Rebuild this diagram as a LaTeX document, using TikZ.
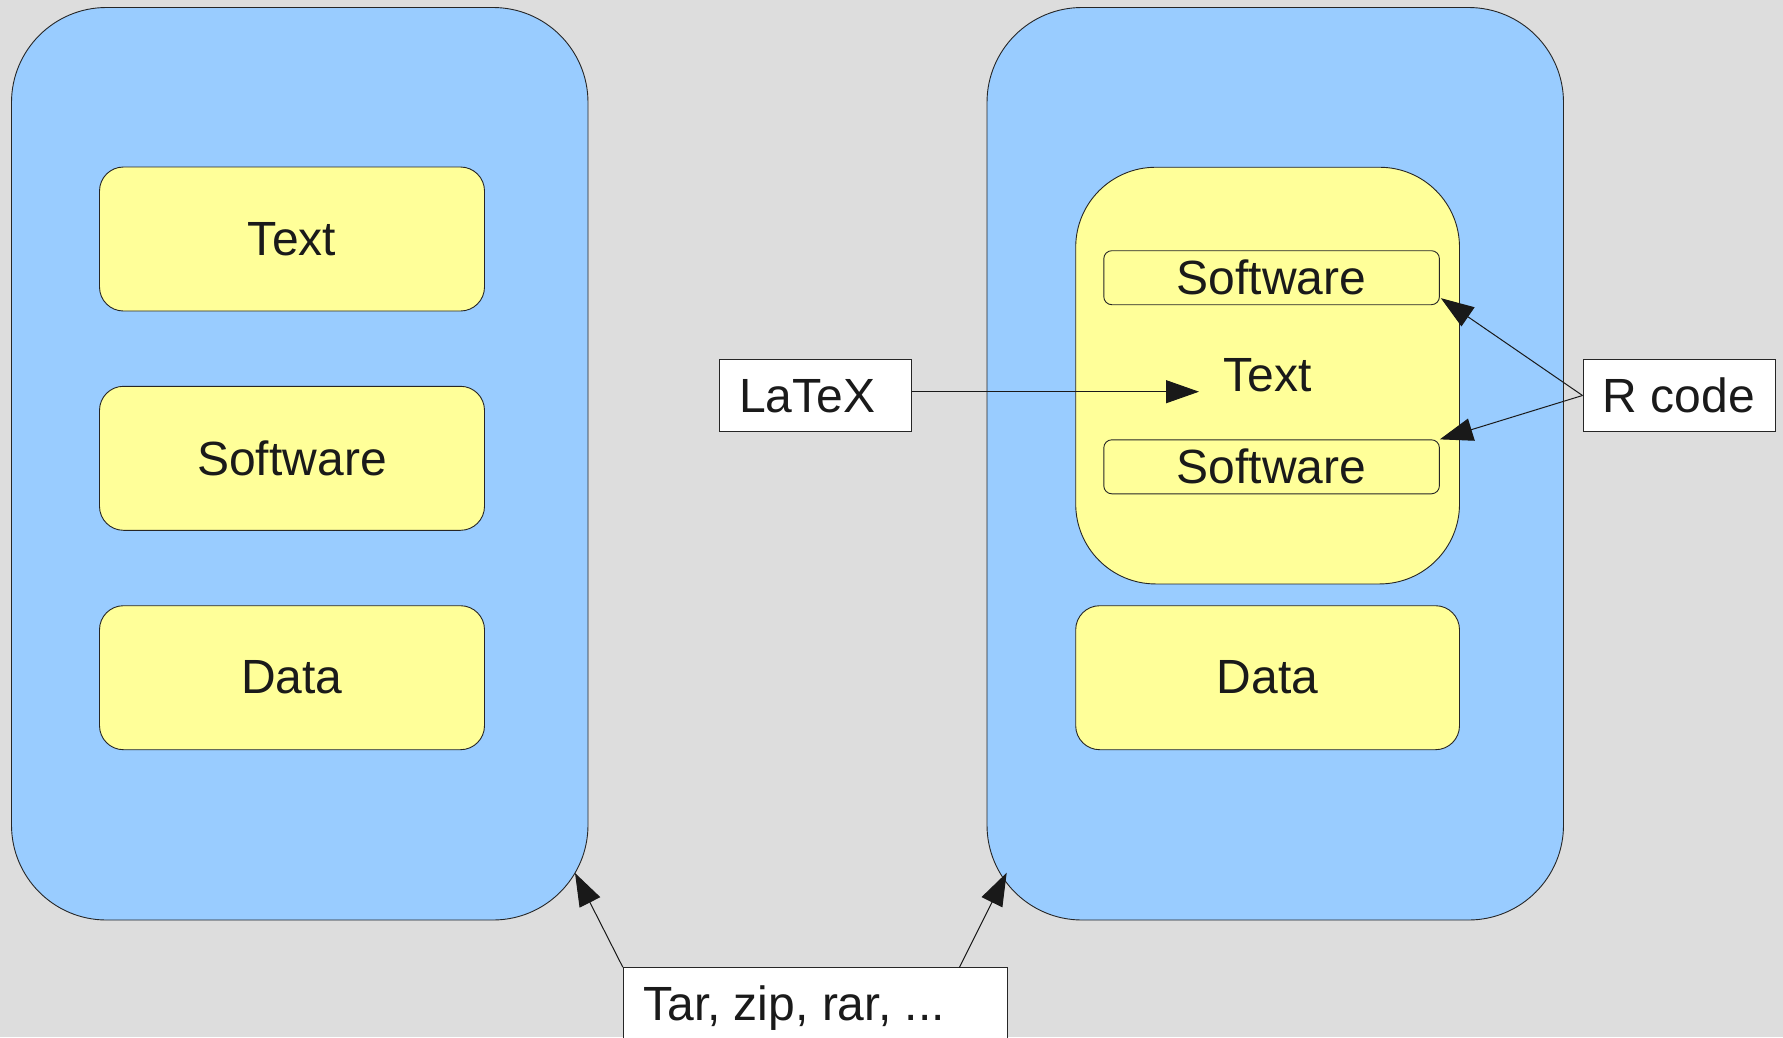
\documentclass[tikz,border=0pt]{standalone}
\usepackage{fontspec}
\setmainfont{Liberation Sans}
\usetikzlibrary{arrows.meta,calc}
\definecolor{bg}{HTML}{DDDDDD}
\definecolor{blu}{HTML}{99CCFF}
\definecolor{yel}{HTML}{FFFF99}
\definecolor{ink}{HTML}{1A1A1A}
\begin{document}
\begin{tikzpicture}[x=1pt,y=-1pt,
  every node/.style={font=\fontsize{48}{56}\selectfont, text=ink},
  bluebox/.style={draw=black!85, line width=0.9pt, fill=blu, rounded corners=95pt,
    minimum width=576.5pt, minimum height=912.5pt, inner sep=0pt},
  ybox/.style={draw=black!85, line width=0.9pt, fill=yel, rounded corners=24pt,
    minimum width=385pt, minimum height=144pt, inner sep=0pt},
  swbox/.style={draw=black!85, line width=0.9pt, fill=yel, rounded corners=8pt,
    minimum width=335.6pt, minimum height=54pt, inner sep=0pt},
  lbl/.style={draw=black!85, line width=0.9pt, fill=white, minimum height=72.4pt,
    inner xsep=20pt, inner ysep=0pt, text height=33pt, text depth=0pt},
  arr/.style={draw=black!90, line width=1pt, -{Triangle[length=33pt,width=23pt]}}
]
\useasboundingbox (0,0) rectangle (1783,1037);
\clip (0,0) rectangle (1783,1037);
\fill[bg] (0,0) rectangle (1783,1037);

\node[bluebox] (lb) at (299.75,463.75) {};
\node[bluebox] (rb) at (1275.25,463.75) {};

\node[ybox] (lt) at (292,239) {Text};
\node[ybox] (ls) at (292,458.3) {Software};
\node[ybox] (ld) at (292,677.7) {Data};

\node[ybox, minimum width=383.8pt, minimum height=416.7pt, rounded corners=80pt] (ry) at (1267.6,375.6) {};
\node[ybox, minimum width=383.8pt] (rd) at (1267.6,677.7) {Data};
\node[swbox] (sw1) at (1271.6,277.7) {Software};
\node[swbox] (sw2) at (1271.6,466.8) {Software};
\node[inner sep=0pt, anchor=base] (rt) at (1267.4,391.7) {Text};

\node[lbl] (latex) at (815.35,395.5) {\makebox[152.7pt][l]{LaTeX}};
\node[lbl] (rcode) at (1679.3,395.5) {\makebox[152.7pt][l]{R code}};
\node[lbl] (tar) at (815.3,1003.9) {\makebox[344pt][l]{Tar, zip, rar, ...}};

\coordinate (ltip) at (1199,391.7);
\coordinate (tipL) at (575,873);
\coordinate (tipR) at (1006.7,872.7);
\coordinate (tarR) at (959.3,967.7);

\draw[arr] (latex.east |- ltip) -- (ltip);
\draw[arr] (rcode.west) -- ($(sw1.south east)+(1,-7)$);
\draw[arr] (rcode.west) -- (sw2.north east);
\draw[arr] (tar.north west) -- (tipL);
\draw[arr] (tarR) -- (tipR);
\end{tikzpicture}
\end{document}
